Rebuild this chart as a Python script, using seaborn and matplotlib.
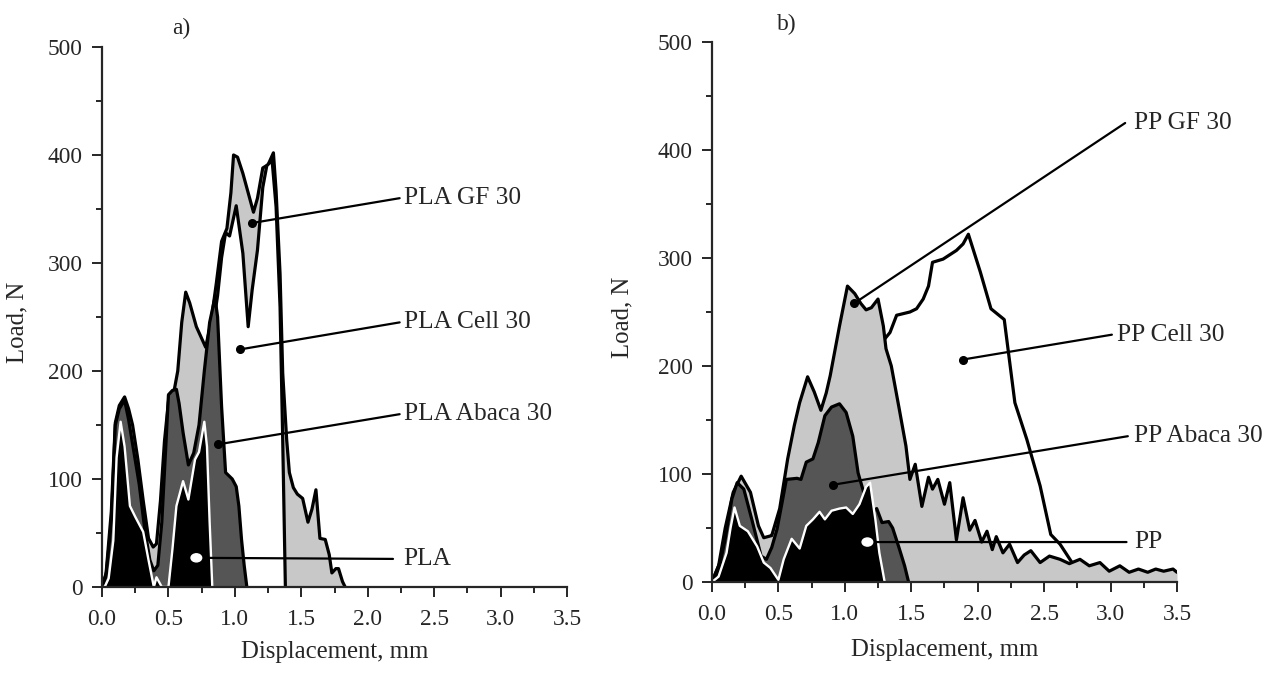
import numpy as np
import matplotlib
matplotlib.use("Agg")
import matplotlib.pyplot as plt
from matplotlib.patches import Ellipse
from matplotlib.ticker import MultipleLocator
import seaborn as sns

# ---- a) PLA composites (displacement mm, load N) ----
pla_gf_x = [0, 0.03, 0.07, 0.1, 0.13, 0.17, 0.2, 0.23, 0.27, 0.31, 0.35, 0.385, 0.41, 0.44, 0.47,
            0.5, 0.54, 0.57, 0.6, 0.63, 0.66, 0.71, 0.78, 0.82, 0.86, 0.9, 0.94, 0.97, 0.99, 1.02,
            1.06, 1.1, 1.14, 1.17, 1.21, 1.25, 1.29, 1.31, 1.34, 1.36, 1.39, 1.41, 1.44, 1.47, 1.51,
            1.55, 1.58, 1.61, 1.64, 1.68, 1.71, 1.73, 1.76, 1.78, 1.81, 1.83]
pla_gf_y = [0, 12, 70, 152, 168, 176, 165, 150, 118, 80, 45, 37, 40, 80, 135,
            172, 180, 200, 245, 273, 263, 241, 222, 245, 281, 320, 332, 365, 400, 398,
            383, 365, 347, 360, 388, 391, 402, 367, 290, 198, 136, 106, 92, 86, 82,
            60, 72, 90, 45, 44, 30, 13, 17, 17, 5, 0]

pla_cell_x = [0, 0.05, 0.1, 0.15, 0.2, 0.25, 0.3, 0.35, 0.45, 0.5, 0.55, 0.6, 0.65, 0.7, 0.75,
              0.8, 0.84, 0.87, 0.9, 0.93, 0.96, 1.01, 1.06, 1.1, 1.13, 1.17, 1.21, 1.24, 1.28,
              1.31, 1.34, 1.36, 1.38]
pla_cell_y = [0, 20, 100, 130, 110, 70, 25, 0, 0, 90, 140, 120, 95, 115, 160,
              210, 245, 270, 305, 328, 325, 353, 309, 241, 275, 312, 370, 390, 395,
              352, 259, 136, 0]

pla_abaca_x = [0, 0.03, 0.07, 0.1, 0.13, 0.17, 0.2, 0.24, 0.28, 0.32, 0.36, 0.39, 0.42, 0.45,
               0.48, 0.5, 0.53, 0.56, 0.58, 0.61, 0.65, 0.69, 0.73, 0.77, 0.81, 0.85, 0.87,
               0.9, 0.93, 0.98, 1.01, 1.03, 1.05, 1.07, 1.09]
pla_abaca_y = [0, 10, 60, 150, 165, 173, 155, 125, 95, 55, 25, 15, 20, 60,
               130, 178, 182, 183, 170, 143, 113, 124, 150, 200, 245, 268, 250,
               167, 106, 100, 93, 75, 44, 20, 0]

pla_x = [0, 0.02, 0.05, 0.085, 0.11, 0.14, 0.17, 0.21, 0.25, 0.31, 0.35, 0.39, 0.41, 0.45,
         0.5, 0.53, 0.56, 0.61, 0.65, 0.7, 0.73, 0.77, 0.79, 0.81, 0.83]
pla_y = [0, 0, 8, 43, 120, 153, 130, 75, 65, 51, 25, 0, 9, 0,
         0, 35, 75, 98, 81, 118, 125, 153, 130, 60, 0]

# ---- b) PP composites ----
pp_gf_x = [0, 0.05, 0.1, 0.16, 0.22, 0.29, 0.35, 0.39, 0.45, 0.51, 0.57, 0.62, 0.66, 0.72, 0.77,
           0.82, 0.86, 0.89, 0.96, 1.02, 1.075, 1.12, 1.16, 1.2, 1.25, 1.29, 1.31, 1.35, 1.41,
           1.46, 1.49, 1.53, 1.58, 1.63, 1.66, 1.70, 1.75, 1.79, 1.84, 1.89, 1.94, 1.98, 2.03,
           2.07, 2.11, 2.14, 2.19, 2.24, 2.30, 2.35, 2.40, 2.47, 2.54, 2.62, 2.69, 2.77, 2.84,
           2.92, 2.99, 3.07, 3.14, 3.21, 3.28, 3.34, 3.40, 3.47, 3.5]
pp_gf_y = [0, 15, 50, 83, 98, 83, 52, 41, 43, 68, 114, 145, 166, 190, 176,
           159, 175, 191, 237, 274, 267, 258, 252, 254, 262, 237, 216, 200, 160,
           126, 95, 109, 70, 97, 86, 95, 72, 92, 39, 78, 48, 57, 37,
           47, 30, 42, 27, 35, 18, 25, 29, 18, 24, 21, 17, 21, 15,
           18, 10, 15, 9, 12, 9, 12, 10, 12, 9]

pp_cell_x = [0, 0.2, 0.35, 0.5, 0.7, 0.9, 1.0, 1.1, 1.2, 1.26, 1.3, 1.34, 1.39, 1.49, 1.54,
             1.59, 1.63, 1.66, 1.74, 1.84, 1.89, 1.93, 2.02, 2.10, 2.20, 2.28, 2.37, 2.47,
             2.55, 2.62, 2.71, 2.76, 2.8]
pp_cell_y = [0, 60, 30, 50, 150, 170, 200, 210, 218, 222, 225, 231, 247, 250, 253,
             262, 274, 296, 299, 307, 313, 322, 287, 253, 243, 166, 132, 89,
             44, 35, 18, 10, 0]

pp_abaca_x = [0, 0.05, 0.1, 0.15, 0.19, 0.24, 0.30, 0.37, 0.41, 0.45, 0.49, 0.53, 0.56, 0.64,
              0.67, 0.71, 0.76, 0.80, 0.85, 0.90, 0.96, 1.01, 1.06, 1.10, 1.14, 1.18, 1.21,
              1.24, 1.28, 1.33, 1.36, 1.41, 1.45, 1.48]
pp_abaca_y = [0, 10, 40, 77, 92, 86, 58, 24, 21, 32, 49, 75, 95, 96,
              95, 111, 114, 129, 154, 162, 165, 157, 135, 101, 84, 75, 65,
              68, 55, 56, 50, 31, 15, 0]

pp_x = [0, 0.05, 0.11, 0.14, 0.17, 0.21, 0.27, 0.34, 0.39, 0.44, 0.50, 0.54, 0.60, 0.66,
        0.71, 0.76, 0.81, 0.85, 0.90, 0.96, 1.01, 1.06, 1.11, 1.16, 1.19, 1.23, 1.26, 1.30]
pp_y = [0, 5, 27, 50, 69, 52, 47, 33, 18, 13, 2, 21, 40, 31,
        52, 58, 65, 58, 66, 68, 69, 63, 72, 88, 92, 58, 27, 0]

LIGHT = "#c8c8c8"
DARK = "#555555"

sns.set_style("ticks")
plt.rcParams["font.family"] = ["Liberation Serif", "DejaVu Serif"]
plt.rcParams["font.size"] = 16.8


def draw_curve(ax, x, y, face, edge, z):
    ax.fill_between(x, y, 0, color=face, lw=0, zorder=z)
    lw = 2.3 if edge == "black" else 1.7
    sns.lineplot(x=x, y=y, ax=ax, color=edge, linewidth=lw, sort=False,
                 estimator=None, zorder=z + 0.5, solid_joinstyle="round")


def label(ax, dot, end, text, tx, white=False):
    ax.annotate("", xy=dot, xytext=end, annotation_clip=False,
                arrowprops=dict(arrowstyle="-", lw=1.6, color="black",
                                shrinkA=0, shrinkB=0), zorder=8)
    if white:
        ax.add_patch(Ellipse(dot, 0.08, 7.5, color="white", zorder=9))
    else:
        ax.plot(*dot, marker="o", ms=5.5, color="black", zorder=9)
    ax.text(tx, end[1], text, ha="left", va="center", clip_on=False, zorder=9,
            fontsize=18.3)


def style_axes(ax, ylab_x, xlab_y):
    ax.set_xlim(0, 3.5)
    ax.set_ylim(0, 500)
    ax.xaxis.set_major_locator(MultipleLocator(0.5))
    ax.xaxis.set_minor_locator(MultipleLocator(0.25))
    ax.yaxis.set_major_locator(MultipleLocator(100))
    ax.yaxis.set_minor_locator(MultipleLocator(50))
    ax.xaxis.set_major_formatter(matplotlib.ticker.FormatStrFormatter("%.1f"))
    ax.tick_params(which="major", length=7, width=1.4, direction="out", labelsize=16.8)
    ax.tick_params(axis="x", which="major", pad=9)
    ax.tick_params(axis="y", which="major", pad=7)
    ax.tick_params(which="minor", length=4, width=1.4, direction="out")
    sns.despine(ax=ax)
    for s in ["left", "bottom"]:
        ax.spines[s].set_linewidth(1.6)
        ax.spines[s].set_zorder(10)
    ax.set_xlabel("Displacement, mm", fontsize=17.8)
    ax.set_ylabel("Load, N", fontsize=17.8)
    ax.xaxis.set_label_coords(0.5, xlab_y)
    ax.yaxis.set_label_coords(ylab_x, 0.49)
    ax.set_facecolor("white")


fig = plt.figure(figsize=(12.72, 6.73), dpi=100)
ax1 = fig.add_axes([0.0802, 0.1278, 0.3656, 0.8024])
ax2 = fig.add_axes([0.5597, 0.1352, 0.3656, 0.8024])

# panel a: GF light, Cell white on top of GF, then Abaca, then PLA
draw_curve(ax1, pla_gf_x, pla_gf_y, LIGHT, "black", 1)
draw_curve(ax1, pla_cell_x, pla_cell_y, "white", "black", 2)
draw_curve(ax1, pla_abaca_x, pla_abaca_y, DARK, "black", 3)
draw_curve(ax1, pla_x, pla_y, "black", "white", 4)

label(ax1, (1.13, 337), (2.24, 360), "PLA GF 30", 2.27)
label(ax1, (1.04, 220), (2.24, 245), "PLA Cell 30", 2.27)
label(ax1, (0.87, 132), (2.24, 160), "PLA Abaca 30", 2.27)
label(ax1, (0.71, 27), (2.19, 26), "PLA", 2.27, white=True)
ax1.text(0.6, 517, "a)", ha="center", va="center", clip_on=False)
style_axes(ax1, -0.158, -0.1)

# panel b: Cell under GF
draw_curve(ax2, pp_cell_x, pp_cell_y, "white", "black", 1)
draw_curve(ax2, pp_gf_x, pp_gf_y, LIGHT, "black", 2)
draw_curve(ax2, pp_abaca_x, pp_abaca_y, DARK, "black", 3)
draw_curve(ax2, pp_x, pp_y, "black", "white", 4)

label(ax2, (1.07, 258), (3.11, 425), "PP GF 30", 3.18)
label(ax2, (1.89, 206), (3.01, 229), "PP Cell 30", 3.05)
label(ax2, (0.91, 90), (3.13, 135), "PP Abaca 30", 3.18)
label(ax2, (1.17, 37), (3.12, 37), "PP", 3.18, white=True)
ax2.text(0.56, 516, "b)", ha="center", va="center", clip_on=False)
style_axes(ax2, -0.168, -0.105)

fig.savefig("out.png", dpi=100)
